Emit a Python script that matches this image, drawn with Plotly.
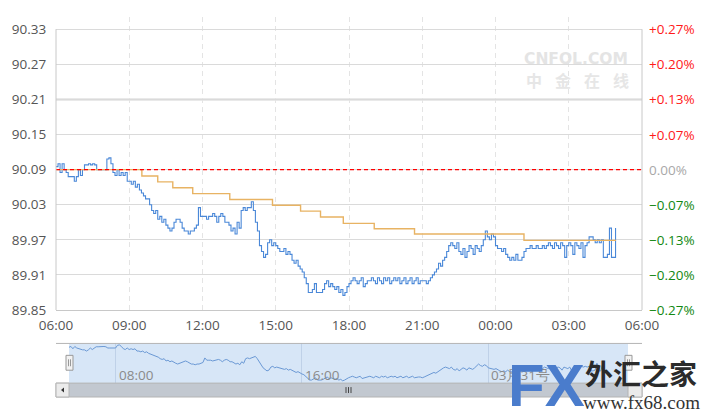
import plotly.graph_objects as go
import pandas as pd

# ---------------- data ----------------
# Price, 5-minute samples starting 2023-03-30 06:00 (one row per hour)
price_rows = [
    [90.095, 90.10, 90.085, 90.10, 90.09, 90.085, 90.078, 90.078, 90.078, 90.07, 90.078, 90.09],   # 06
    [90.08, 90.09, 90.098, 90.098, 90.10, 90.098, 90.10, 90.098, 90.09, 90.09, 90.09, 90.09],      # 07
    [90.09, 90.108, 90.11, 90.10, 90.085, 90.08, 90.09, 90.08, 90.085, 90.08, 90.085, 90.07],      # 08
    [90.07, 90.065, 90.07, 90.06, 90.065, 90.055, 90.05, 90.045, 90.04, 90.04, 90.03, 90.02],      # 09
    [90.015, 90.02, 90.005, 90.01, 90.0, 90.005, 89.995, 89.99, 89.985, 89.99, 90.0, 90.005],      # 10
    [90.005, 90.0, 89.99, 89.985, 89.985, 89.98, 89.985, 89.985, 89.99, 89.995, 90.025, 90.01],    # 11
    [90.01, 90.01, 90.005, 90.01, 90.01, 90.015, 90.01, 90.0, 90.01, 90.015, 90.01, 90.0],         # 12
    [90.0, 89.995, 89.985, 89.99, 89.98, 90.0, 89.99, 90.02, 90.025, 90.02, 90.025, 90.025],       # 13
    [90.035, 90.02, 90.0, 89.985, 89.96, 89.95, 89.94, 89.945, 89.965, 89.97, 89.96, 89.965],      # 14
    [89.96, 89.955, 89.95, 89.95, 89.955, 89.945, 89.95, 89.945, 89.935, 89.93, 89.935, 89.925],   # 15
    [89.92, 89.915, 89.905, 89.895, 89.88, 89.88, 89.885, 89.895, 89.88, 89.88, 89.88, 89.885],    # 16
    [89.895, 89.90, 89.89, 89.895, 89.89, 89.885, 89.89, 89.88, 89.885, 89.875, 89.88, 89.89],     # 17
    [89.895, 89.90, 89.905, 89.90, 89.895, 89.90, 89.905, 89.89, 89.895, 89.90, 89.90, 89.905],    # 18
    [89.90, 89.895, 89.905, 89.90, 89.895, 89.905, 89.90, 89.905, 89.895, 89.90, 89.905, 89.90],   # 19
    [89.905, 89.895, 89.90, 89.905, 89.895, 89.90, 89.905, 89.895, 89.90, 89.905, 89.895, 89.90],  # 20
    [89.90, 89.90, 89.895, 89.90, 89.905, 89.91, 89.915, 89.92, 89.93, 89.925, 89.935, 89.94],     # 21
    [89.95, 89.96, 89.965, 89.96, 89.955, 89.965, 89.95, 89.945, 89.955, 89.94, 89.95, 89.96],     # 22
    [89.955, 89.945, 89.96, 89.955, 89.95, 89.96, 89.97, 89.985, 89.975, 89.97, 89.98, 89.975],    # 23
    [89.96, 89.955, 89.955, 89.95, 89.955, 89.945, 89.94, 89.935, 89.94, 89.935, 89.945, 89.935],  # 00
    [89.935, 89.94, 89.95, 89.955, 89.955, 89.96, 89.955, 89.955, 89.96, 89.955, 89.955, 89.96],   # 01
    [89.955, 89.96, 89.965, 89.96, 89.955, 89.965, 89.96, 89.955, 89.965, 89.96, 89.94, 89.96],    # 02
    [89.965, 89.96, 89.945, 89.965, 89.96, 89.955, 89.965, 89.94, 89.96, 89.965, 89.975, 89.975],  # 03
    [89.97, 89.965, 89.97, 89.965, 89.97, 89.94, 89.94, 89.945, 89.99, 89.94, 89.94, 89.99],       # 04
]
start_time = "2023-03-30 06:00"
end_time = "2023-03-31 06:00"

# Average (step) line
avg_times = ["2023-03-30 06:00", "2023-03-30 09:31", "2023-03-30 10:10", "2023-03-30 10:47",
             "2023-03-30 11:36", "2023-03-30 13:07", "2023-03-30 14:52", "2023-03-30 16:01",
             "2023-03-30 16:50", "2023-03-30 17:46", "2023-03-30 19:02", "2023-03-30 20:41",
             "2023-03-31 01:10", "2023-03-31 04:56"]
avg_values = [90.09, 90.079, 90.069, 90.059, 90.049, 90.039, 90.029, 90.019,
              90.009, 89.998, 89.989, 89.980, 89.969, 89.969]

prev_close = 90.09

x_tick_times = ["2023-03-30 06:00", "2023-03-30 09:00", "2023-03-30 12:00", "2023-03-30 15:00",
                "2023-03-30 18:00", "2023-03-30 21:00", "2023-03-31 00:00", "2023-03-31 03:00",
                "2023-03-31 06:00"]
x_tick_labels = ["06:00", "09:00", "12:00", "15:00", "18:00", "21:00", "00:00", "03:00", "06:00"]

y_ticks = [89.85, 89.91, 89.97, 90.03, 90.09, 90.15, 90.21, 90.27, 90.33]
y_tick_labels = ["89.85", "89.91", "89.97", "90.03", "90.09", "90.15", "90.21", "90.27", "90.33"]
pct_labels = ["\u22120.27%", "\u22120.20%", "\u22120.13%", "\u22120.07%", "0.00%",
              "+0.07%", "+0.13%", "+0.20%", "+0.27%"]

nav_tick_times = ["2023-03-30 08:00", "2023-03-30 16:00", "2023-03-31 00:00"]
nav_tick_labels = ["08:00", "16:00", "03月31号"]

# ---------------- build ----------------
price = [v for row in price_rows for v in row]
times = pd.date_range(start_time, periods=len(price), freq="5min")

W, H = 707, 418
L, R, T, B = 56, 65, 17, 18
PW, PH = W - L - R, H - T - B


def px(x):
    return (x - L) / PW


def py(y):
    return (H - B - y) / PH


FONT = "Open Sans, DejaVu Sans, sans-serif"

fig = go.Figure()
fig.add_trace(go.Scatter(x=times, y=price, mode="lines",
                         line=dict(color="#4a88d8", width=1.1, shape="hv"),
                         xaxis="x", yaxis="y", hoverinfo="skip"))
fig.add_trace(go.Scatter(x=pd.to_datetime(avg_times), y=avg_values, mode="lines",
                         line=dict(color="#e8b363", width=1.4, shape="hv"),
                         xaxis="x", yaxis="y", hoverinfo="skip"))
fig.add_trace(go.Scatter(x=times, y=price, mode="lines",
                         line=dict(color="#6a98d4", width=1),
                         xaxis="x2", yaxis="y2", hoverinfo="skip"))

y_top = 90.33 + (29.3 - 17) * 0.06 / 35.375

shapes = []
# navigator background
shapes.append(dict(type="rect", xref="x2 domain", yref="y2 domain", x0=0, x1=1, y0=0, y1=1,
                   fillcolor="#d7e6f7", line=dict(width=0), layer="below"))
# hide grid at prev close
shapes.append(dict(type="line", xref="paper", yref="y", x0=0, x1=1, y0=prev_close, y1=prev_close,
                   line=dict(color="white", width=2), layer="below"))
# heavier line at 90.21
shapes.append(dict(type="line", xref="paper", yref="y", x0=0, x1=1, y0=90.21, y1=90.21,
                   line=dict(color="#d4d4d4", width=2), layer="below"))
# red dashed prev close line
shapes.append(dict(type="line", xref="paper", yref="y", x0=0, x1=1, y0=prev_close, y1=prev_close,
                   line=dict(color="#ff0000", width=1.2, dash="4px,3px")))
# side axis lines
for xp in (0, 1):
    shapes.append(dict(type="line", xref="paper", yref="y", x0=xp, x1=xp, y0=89.85, y1=90.33,
                       line=dict(color="#c8c8c8", width=1)))
# navigator top border
shapes.append(dict(type="line", xref="paper", yref="paper", x0=px(56), x1=px(642),
                   y0=py(346), y1=py(346), line=dict(color="#b4b4b4", width=1)))
# scrollbar
shapes.append(dict(type="rect", xref="paper", yref="paper", x0=px(56), x1=px(642),
                   y0=py(400), y1=py(386), fillcolor="#c2c8d0", line=dict(color="#b4b4b4", width=1)))
shapes.append(dict(type="rect", xref="paper", yref="paper", x0=px(56), x1=px(69),
                   y0=py(400), y1=py(386), fillcolor="#ebebeb", line=dict(color="#b4b4b4", width=1)))
shapes.append(dict(type="rect", xref="paper", yref="paper", x0=px(628), x1=px(642),
                   y0=py(400), y1=py(386), fillcolor="#ebebeb", line=dict(color="#b4b4b4", width=1)))
shapes.append(dict(type="path", xref="paper", yref="paper",
                   path=f"M {px(61)} {py(393)} L {px(64)} {py(390.5)} L {px(64)} {py(395.5)} Z",
                   fillcolor="#333333", line=dict(width=0)))
for gx in (346, 348.5, 351):
    shapes.append(dict(type="line", xref="paper", yref="paper", x0=px(gx), x1=px(gx),
                       y0=py(390), y1=py(396), line=dict(color="#444", width=1)))
# navigator handles
for hx in (66, 625):
    shapes.append(dict(type="rect", xref="paper", yref="paper", x0=px(hx), x1=px(hx + 7),
                       y0=py(373), y1=py(358), fillcolor="#f2f2f2", line=dict(color="#999999", width=1)))
    for gx in (hx + 2.5, hx + 4.5):
        shapes.append(dict(type="line", xref="paper", yref="paper", x0=px(gx), x1=px(gx),
                           y0=py(369), y1=py(362), line=dict(color="#999999", width=1)))

annotations = []
# right percentage labels
pct_colors = []
for lab in pct_labels:
    if lab.startswith("+"):
        pct_colors.append("#ff1a1a")
    elif lab.startswith("0"):
        pct_colors.append("#a8a8a8")
    else:
        pct_colors.append("#118811")
for yv, lab, col in zip(y_ticks, pct_labels, pct_colors):
    annotations.append(dict(x=1, xref="paper", y=yv, yref="y", text=lab, showarrow=False,
                            xanchor="left", yanchor="middle", xshift=5,
                            font=dict(family=FONT, size=13.5, color=col)))
# navigator labels
for t, lab in zip(nav_tick_times, nav_tick_labels):
    annotations.append(dict(x=t, xref="x2", y=py(378), yref="paper", text=lab, showarrow=False,
                            xanchor="left", yanchor="middle", xshift=1,
                            font=dict(family=FONT, size=13.5, color="#8a8a8a")))
# watermark
annotations.append(dict(x=px(576), y=py(59), xref="paper", yref="paper", text="<b>CNFOL.COM</b>",
                        showarrow=False, xanchor="center", yanchor="middle",
                        font=dict(family="DejaVu Sans, sans-serif", size=15.5, color="#e4e4e4")))
for i, ch in enumerate("中金在线"):
    annotations.append(dict(x=px(534 + i * 29), y=py(80), xref="paper", yref="paper", text=f"<b>{ch}</b>",
                            showarrow=False, xanchor="center", yanchor="middle",
                            font=dict(family="Noto Sans CJK SC", size=16, color="#e6e6e6")))
# fx68 logo
annotations.append(dict(x=px(546), y=py(388), xref="paper", yref="paper", text="<b>FX</b>",
                        showarrow=False, xanchor="center", yanchor="middle",
                        font=dict(family="Liberation Sans Narrow, Liberation Sans, sans-serif", size=60,
                                  color="#4a7ccc")))
annotations.append(dict(x=px(641), y=py(376), xref="paper", yref="paper", text="<b>外汇之家</b>",
                        showarrow=False, xanchor="center", yanchor="middle",
                        font=dict(family="Noto Sans CJK SC", size=28, color="#2b2b2b")))
annotations.append(dict(x=px(641), y=py(406), xref="paper", yref="paper", text="www.fx68.com",
                        showarrow=False, xanchor="center", yanchor="middle",
                        font=dict(family="Liberation Serif, serif", size=19, color="#333333")))

fig.update_layout(
    width=W, height=H,
    margin=dict(l=L, r=R, t=T, b=B, pad=0),
    paper_bgcolor="white", plot_bgcolor="white",
    showlegend=False,
    hovermode=False,
    xaxis=dict(domain=[0, 1], anchor="y", type="date", range=[start_time, end_time],
               tickvals=x_tick_times, ticktext=x_tick_labels,
               showgrid=True, gridcolor="#e4e4e4", griddash="5px,4px", gridwidth=1,
               showline=True, linecolor="#c8c8c8", linewidth=1, zeroline=False,
               ticks="outside", ticklen=3, tickcolor="rgba(0,0,0,0)",
               tickfont=dict(family=FONT, size=13.5, color="#555555")),
    yaxis=dict(domain=[py(312.3), 1], anchor="x", range=[89.85, y_top],
               tickvals=y_ticks, ticktext=y_tick_labels,
               showgrid=True, gridcolor="#dadada", gridwidth=1, zeroline=False, showline=False,
               ticks="outside", ticklen=6, tickcolor="rgba(0,0,0,0)",
               tickfont=dict(family=FONT, size=13.5, color="#555555")),
    xaxis2=dict(domain=[px(69), px(628)], anchor="y2", type="date", range=[start_time, end_time],
                tickvals=nav_tick_times, showticklabels=False, ticks="",
                showgrid=True, gridcolor="#bfd1e8", gridwidth=1, zeroline=False, showline=False),
    yaxis2=dict(domain=[py(386), py(346)], anchor="x2", range=[89.86, 90.12],
                showgrid=False, showticklabels=False, zeroline=False, showline=False, ticks=""),
    shapes=shapes,
    annotations=annotations,
)

fig.write_html("out.html")
